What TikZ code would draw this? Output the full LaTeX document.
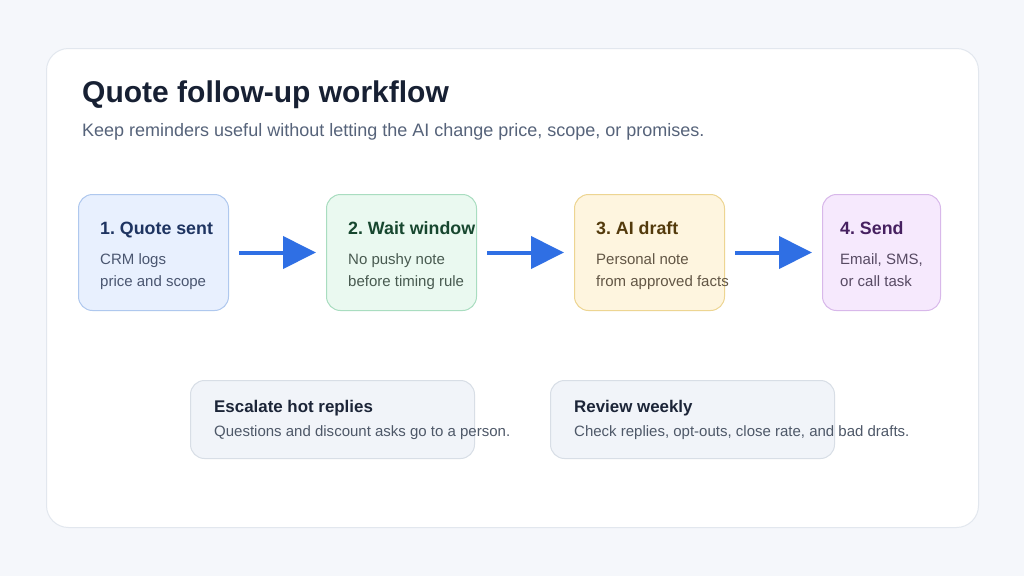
\documentclass[tikz,border=0pt]{standalone}
\usepackage{fontspec}
\setmainfont{Liberation Sans}
\usetikzlibrary{arrows.meta}
\frenchspacing
\definecolor{bgc}{HTML}{F5F7FB}
\definecolor{cardborder}{HTML}{E2E7EE}
\definecolor{titlec}{HTML}{172033}
\definecolor{subc}{HTML}{56637A}
\definecolor{arrowc}{HTML}{2F6FE4}
\definecolor{fA}{HTML}{E8F0FE}\definecolor{dA}{HTML}{AFC8EE}\definecolor{tA}{HTML}{1E3461}\definecolor{bA}{HTML}{4A5670}
\definecolor{fB}{HTML}{EAF9F0}\definecolor{dB}{HTML}{A9DDC0}\definecolor{tB}{HTML}{17472F}\definecolor{bB}{HTML}{485A50}
\definecolor{fC}{HTML}{FEF5DF}\definecolor{dC}{HTML}{EDD592}\definecolor{tC}{HTML}{533A0C}\definecolor{bC}{HTML}{625645}
\definecolor{fD}{HTML}{F6E9FD}\definecolor{dD}{HTML}{D8B8EA}\definecolor{tD}{HTML}{462060}\definecolor{bD}{HTML}{574A63}
\definecolor{fN}{HTML}{F1F4F9}\definecolor{dN}{HTML}{D8DEE6}\definecolor{tN}{HTML}{1C2538}\definecolor{bN}{HTML}{4E5868}
\tikzset{
  stepbox/.style={draw=#1, line width=1pt, rounded corners=14pt, minimum width=150pt, minimum height=116pt, anchor=north west, inner sep=0pt},
  notebox/.style={draw=dN, fill=fN, line width=1pt, rounded corners=14pt, minimum width=284pt, minimum height=78pt, anchor=north west, inner sep=0pt},
  steptitle/.style={anchor=base west, inner sep=0pt, font=\fontsize{17.8}{20}\selectfont\bfseries},
  stepbody/.style={anchor=base west, inner sep=0pt, font=\fontsize{15}{18}\selectfont},
  notetitle/.style={anchor=base west, inner sep=0pt, font=\fontsize{16.9}{20}\selectfont\bfseries, text=tN},
  notebody/.style={anchor=base west, inner sep=0pt, font=\fontsize{15}{18}\selectfont, text=bN},
  flow/.style={draw=arrowc, line width=4pt, shorten <=10pt, shorten >=10pt, -{Triangle[length=33pt,width=32pt]}}
}
\begin{document}
\begin{tikzpicture}[x=1pt,y=-1pt]
\useasboundingbox (0,0) rectangle (1024,576);
\fill[bgc] (0,0) rectangle (1024,576);
\node[draw=cardborder, fill=white, line width=1pt, rounded corners=22pt, minimum width=932pt, minimum height=479pt, anchor=north west, inner sep=0pt] (card) at (46,48) {};
\node[anchor=base west, inner sep=0pt, text=titlec, font=\fontsize{30}{34}\selectfont\bfseries] (title) at (82,102) {Quote follow-up workflow};
\node[anchor=base west, inner sep=0pt, text=subc, font=\fontsize{18}{22}\selectfont] (sub) at (82,136) {Keep reminders useful without letting the AI change price, scope, or promises.};
% step boxes
\node[stepbox=dA, fill=fA] (s1) at (78,194) {};
\node[stepbox=dB, fill=fB] (s2) at (326,194) {};
\node[stepbox=dC, fill=fC] (s3) at (574,194) {};
\node[stepbox=dD, fill=fD, minimum width=118pt] (s4) at (822,194) {};
\node[steptitle, text=tA] (s1t) at (100,234) {1. Quote sent};
\node[stepbody, text=bA] (s1b) at (100,264) {CRM logs};
\node[stepbody, text=bA] (s1c) at (100,286) {price and scope};
\node[steptitle, text=tB] (s2t) at (348,234) {2. Wait window};
\node[stepbody, text=bB] (s2b) at (348,264) {No pushy note};
\node[stepbody, text=bB] (s2c) at (348,286) {before timing rule};
\node[steptitle, text=tC] (s3t) at (596,234) {3. AI draft};
\node[stepbody, text=bC] (s3b) at (596,264) {Personal note};
\node[stepbody, text=bC] (s3c) at (596,286) {from approved facts};
\node[steptitle, text=tD] (s4t) at (840,234) {4. Send};
\node[stepbody, text=bD] (s4b) at (840,264) {Email, SMS,};
\node[stepbody, text=bD] (s4c) at (840,286) {or call task};
% arrows
\draw[flow] (s1.east) -- (s2.west);
\draw[flow] (s2.east) -- (s3.west);
\draw[flow] (s3.east) -- (s4.west);
% notes
\node[notebox] (n1) at (190,380) {};
\node[notetitle] (n1t) at (214,412) {Escalate hot replies};
\node[notebody] (n1b) at (214,436) {Questions and discount asks go to a person.};
\node[notebox] (n2) at (550,380) {};
\node[notetitle] (n2t) at (574,412) {Review weekly};
\node[notebody] (n2b) at (574,436) {Check replies, opt-outs, close rate, and bad drafts.};
\end{tikzpicture}
\end{document}
